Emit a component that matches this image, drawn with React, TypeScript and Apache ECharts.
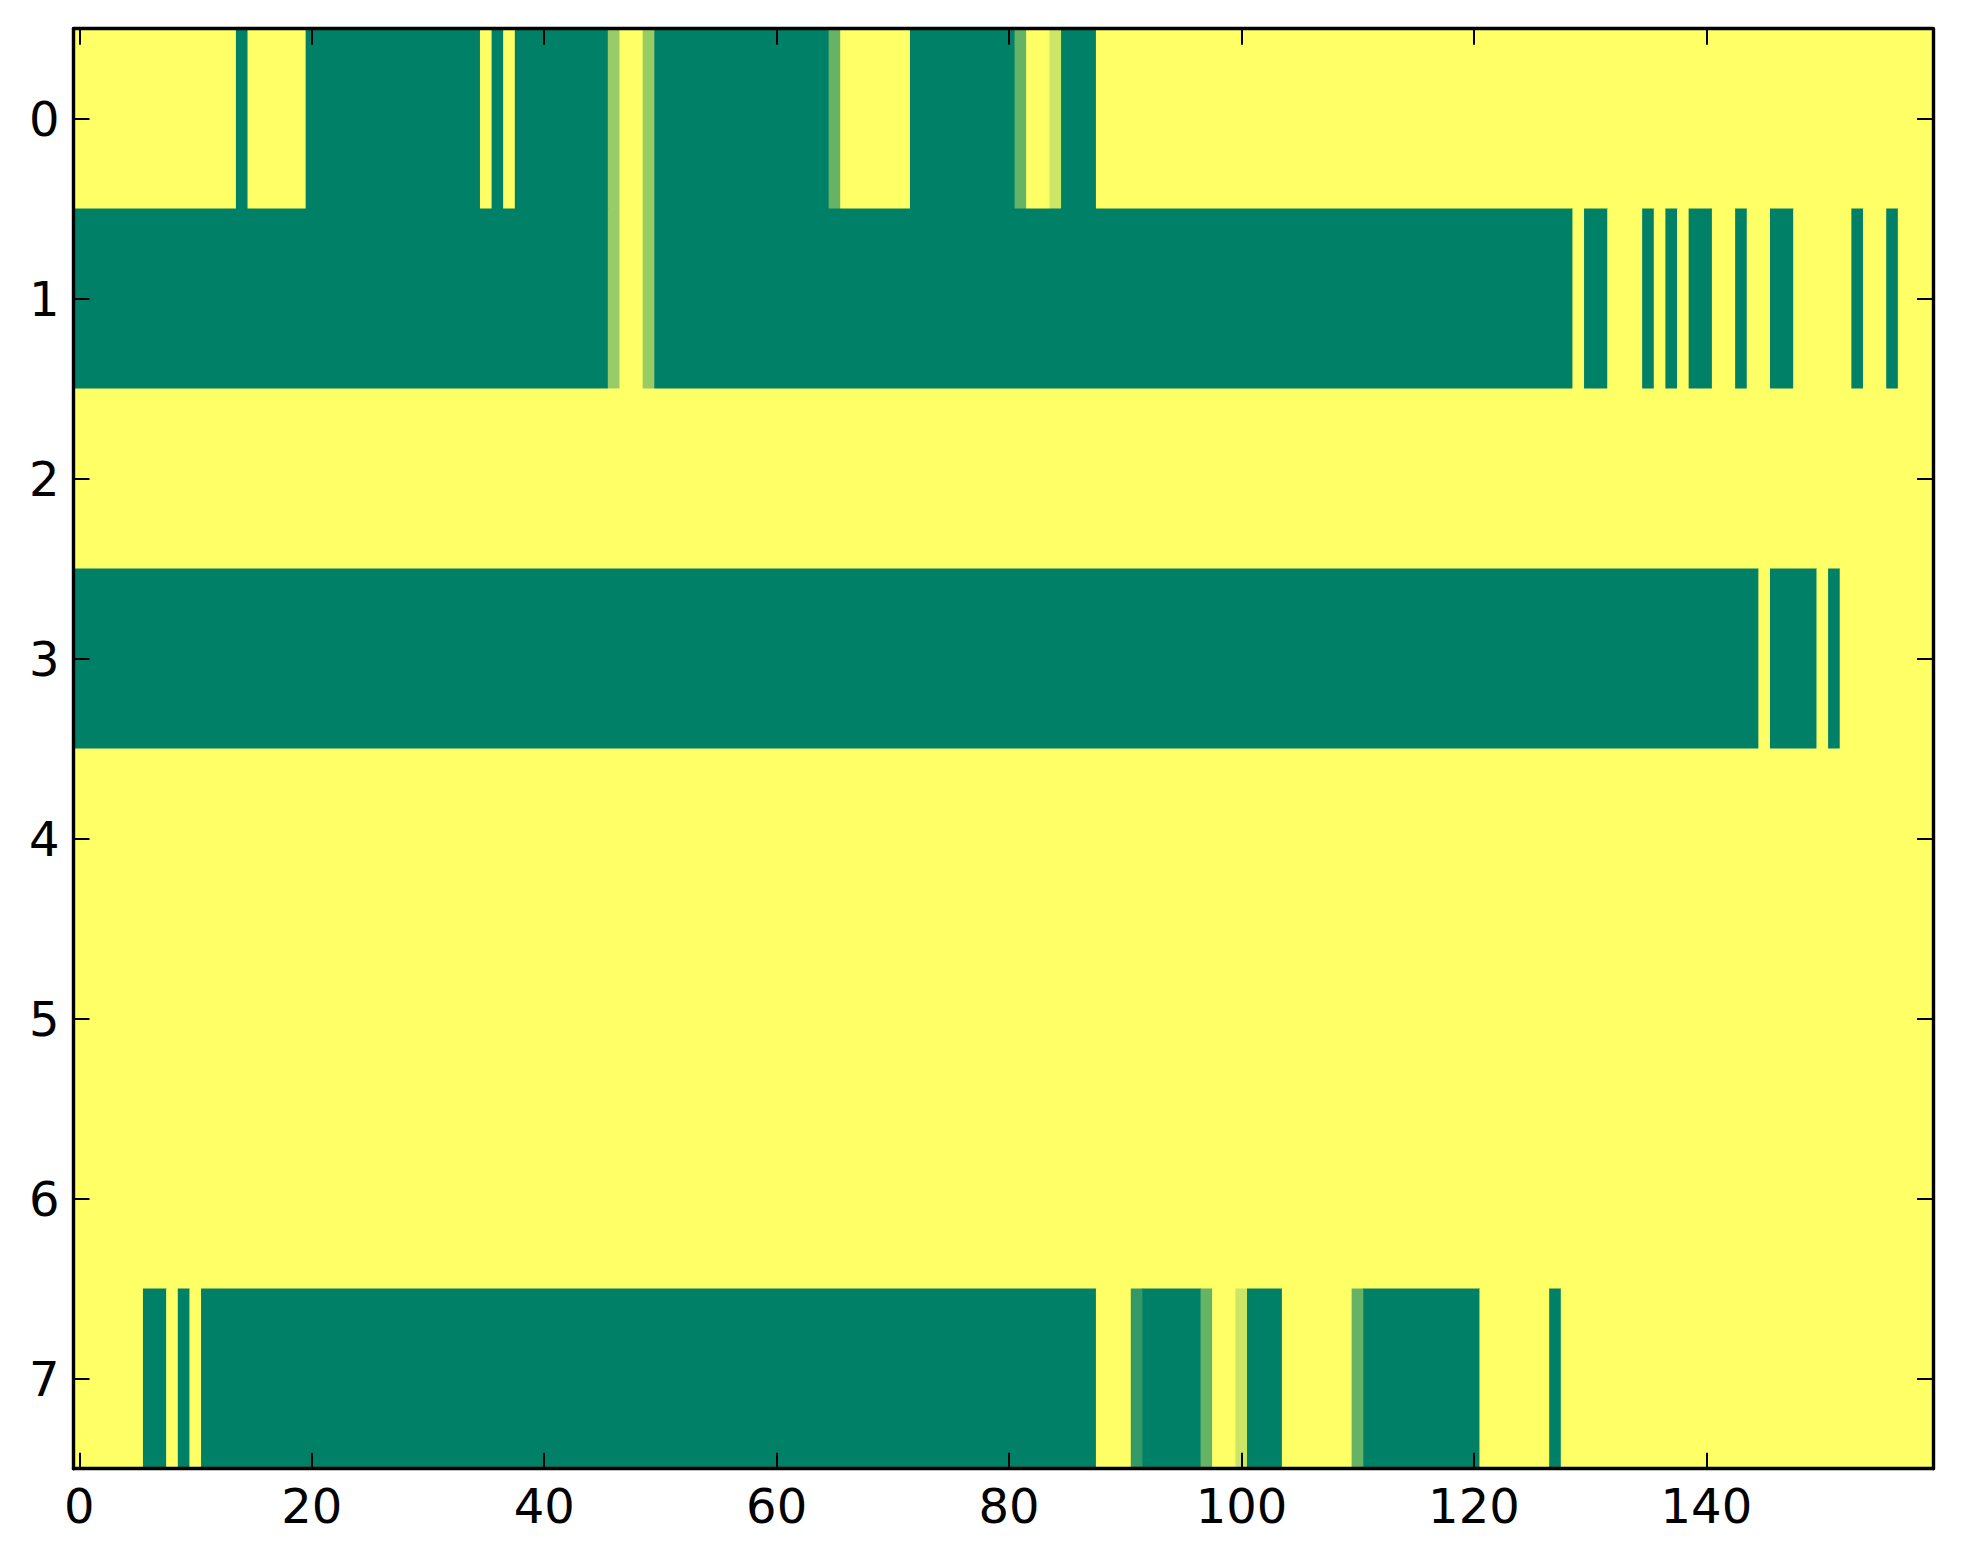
import React, { useEffect, useRef } from "react";
import * as echarts from "echarts";

// Column categories (0..159) and row labels
const X_CATEGORIES: string[] = Array.from({ length: 160 }, (_, i) => String(i));
const ROW_LABELS: string[] = ["0", "1", "2", "3", "4", "5", "6", "7"];
const X_TICK_STEP = 20;

// Each row is given as runs of [value, count] (0 = dark green, 1 = yellow)
const ROW_0: [number, number][] = [
  [1, 14], [0, 1], [1, 5], [0, 15], [1, 1], [0, 1], [1, 1], [0, 8], [0.6, 1], [1, 2],
  [0.6, 1], [0, 15], [0.4, 1], [1, 6], [0, 9], [0.4, 1], [1, 2], [0.8, 1], [0, 3], [1, 72],
];
const ROW_1: [number, number][] = [
  [0, 46], [0.6, 1], [1, 2], [0.6, 1], [0, 79], [1, 1], [0, 2], [1, 3], [0, 1], [1, 1],
  [0, 1], [1, 1], [0, 2], [1, 2], [0, 1], [1, 2], [0, 2], [1, 5], [0, 1], [1, 2], [0, 1], [1, 3],
];
const ROW_2: [number, number][] = [[1, 160]];
const ROW_3: [number, number][] = [[0, 145], [1, 1], [0, 4], [1, 1], [0, 1], [1, 8]];
const ROW_4: [number, number][] = [[1, 160]];
const ROW_5: [number, number][] = [[1, 160]];
const ROW_6: [number, number][] = [[1, 160]];
const ROW_7: [number, number][] = [
  [1, 6], [0, 2], [1, 1], [0, 1], [1, 1], [0, 77], [1, 3], [0.2, 1], [0, 5], [0.4, 1],
  [1, 2], [0.8, 1], [0, 3], [1, 6], [0.4, 1], [0, 10], [1, 6], [0, 1], [1, 32],
];
const ROWS = [ROW_0, ROW_1, ROW_2, ROW_3, ROW_4, ROW_5, ROW_6, ROW_7];

// [firstColumn, lastColumn, row, value] for every run of equal cells
function buildRuns(): [number, number, number, number][] {
  const out: [number, number, number, number][] = [];
  ROWS.forEach((runs, r) => {
    let x = 0;
    runs.forEach(([v, n]) => {
      out.push([x, x + n - 1, r, v]);
      x += n;
    });
  });
  return out;
}

const FONT = "DejaVu Sans";
const FS = 48;

export default function App() {
  const ref = useRef<HTMLDivElement>(null);
  useEffect(() => {
    if (!ref.current) return;
    const chart = echarts.init(ref.current, undefined, { renderer: "svg" });
    const lineStyle = { color: "#000", width: 3.4 };
    const tickStyle = { color: "#000", width: 2 };
    const xTickInterval = (i: number) => i % X_TICK_STEP === 0;
    chart.setOption({
      animation: false,
      backgroundColor: "#fff",
      grid: { left: 73.5, top: 28.7, width: 1859.5, height: 1440, containLabel: false },
      xAxis: [
        {
          type: "category",
          data: X_CATEGORIES,
          position: "bottom",
          z: 10,
          axisLine: { show: true, lineStyle },
          axisTick: { show: true, inside: true, length: 16, alignWithLabel: true, interval: xTickInterval, lineStyle: tickStyle },
          axisLabel: { show: true, interval: xTickInterval, margin: 13, color: "#000", fontSize: FS, fontFamily: FONT },
          splitLine: { show: false },
        },
        {
          type: "category",
          data: X_CATEGORIES,
          position: "top",
          z: 10,
          axisLine: { show: true, lineStyle },
          axisTick: { show: true, inside: true, length: 16, alignWithLabel: true, interval: xTickInterval, lineStyle: tickStyle },
          axisLabel: { show: false },
          splitLine: { show: false },
        },
      ],
      yAxis: [
        {
          type: "category",
          data: ROW_LABELS,
          inverse: true,
          position: "left",
          z: 10,
          axisLine: { show: true, lineStyle },
          axisTick: { show: true, inside: true, length: 16, alignWithLabel: true, interval: 0, lineStyle: tickStyle },
          axisLabel: { show: true, interval: 0, margin: 14, color: "#000", fontSize: FS, fontFamily: FONT },
          splitLine: { show: false },
        },
        {
          type: "category",
          data: ROW_LABELS,
          inverse: true,
          position: "right",
          z: 10,
          axisLine: { show: true, lineStyle },
          axisTick: { show: true, inside: true, length: 16, alignWithLabel: true, interval: 0, lineStyle: tickStyle },
          axisLabel: { show: false },
          splitLine: { show: false },
        },
      ],
      visualMap: {
        show: false,
        min: 0,
        max: 1,
        dimension: 3,
        seriesIndex: 0,
        inRange: { color: ["#008066", "#ffff66"] },
      },
      series: [
        {
          type: "custom",
          xAxisIndex: 0,
          yAxisIndex: 0,
          silent: true,
          encode: { x: [0, 1], y: 2 },
          data: buildRuns(),
          renderItem: (params: any, api: any) => {
            const row = api.value(2);
            const a = api.coord([api.value(0), row]);
            const b = api.coord([api.value(1), row]);
            const size = api.size([1, 1]);
            const bw = size[0];
            const bh = size[1];
            const pad = 0.3;
            return {
              type: "rect",
              shape: {
                x: a[0] - bw / 2 - pad,
                y: a[1] - bh / 2 - pad,
                width: b[0] - a[0] + bw + 2 * pad,
                height: bh + 2 * pad,
              },
              style: { fill: api.visual("color"), stroke: null },
            };
          },
        },
      ],
    });
    return () => chart.dispose();
  }, []);
  return (
    <div
      ref={ref}
      style={{ position: "absolute", left: 0, top: 0, width: 1963, height: 1564, background: "#fff" }}
    />
  );
}
